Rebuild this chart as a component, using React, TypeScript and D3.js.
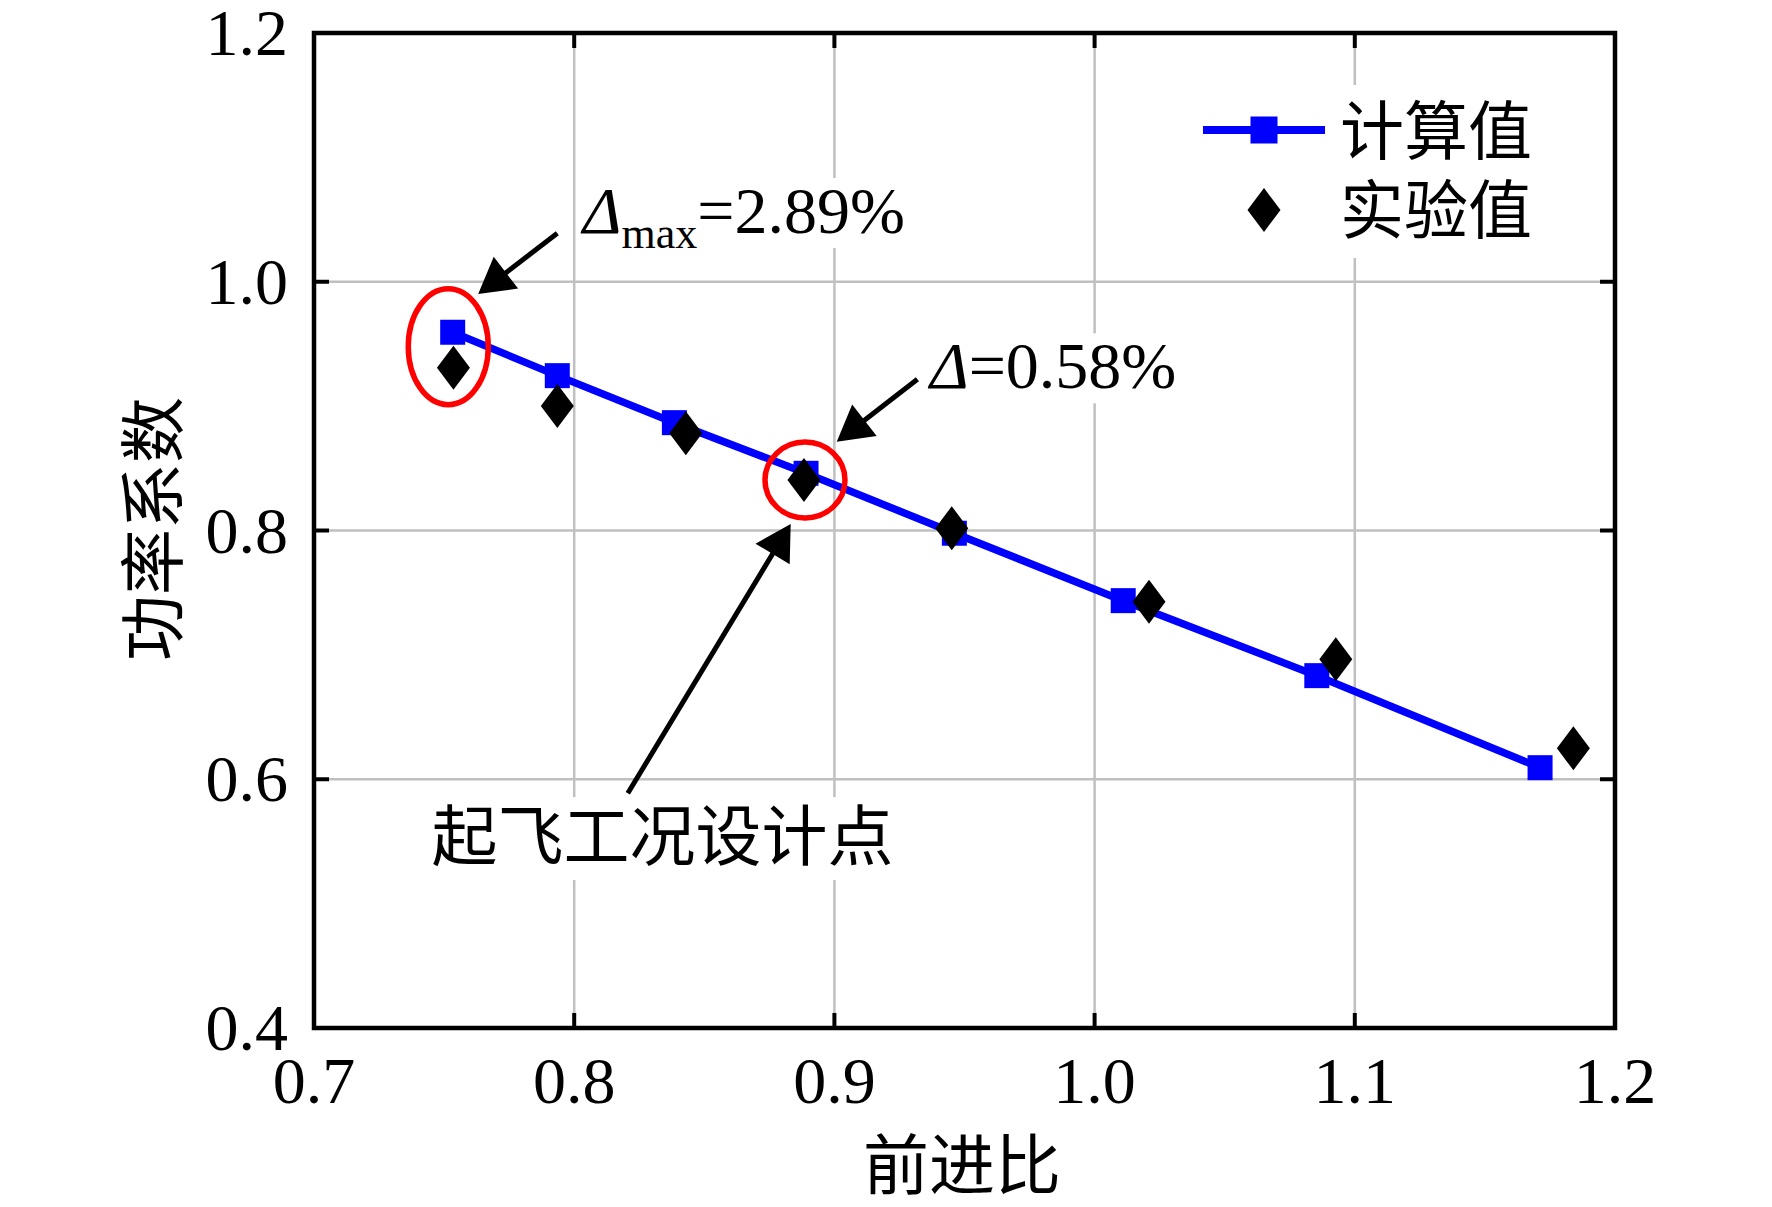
import React from 'react';
import * as d3 from 'd3';

// ---------- data ----------
const calcAdvance = [0.7533, 0.7935, 0.8385, 0.8891, 0.9461, 1.011, 1.0854, 1.1712];
const calcPower = [0.9594, 0.9245, 0.8867, 0.846, 0.7978, 0.7436, 0.6833, 0.6093];
const expAdvance = [0.7536, 0.7935, 0.8429, 0.8883, 0.9451, 1.0209, 1.0927, 1.184];
const expPower = [0.9309, 0.9001, 0.8781, 0.8406, 0.8018, 0.7428, 0.6964, 0.6249];
const xTicks = [0.7, 0.8, 0.9, 1.0, 1.1, 1.2];
const yTicks = [0.4, 0.6, 0.8, 1.0, 1.2];
const seriesNames = ['计算值', '实验值'];
const xTitle = '前进比';
const yTitle = '功率系数';
// highlighted points (ellipse centres, data units)
const highlightX = [0.7516, 0.8887];
const highlightY = [0.9478, 0.8406];
// arrows: tail -> tip (data units)
const arrowTailX = [0.7935, 0.9319, 0.8206];
const arrowTailY = [1.039, 0.9216, 0.5887];
const arrowTipX = [0.7631, 0.9009, 0.8832];
const arrowTipY = [0.9901, 0.8714, 0.8052];
// annotation texts anchor (data units)
const noteMaxPos = [0.8033, 1.0392];
const noteDesignPos = [0.9367, 0.9143];
const noteTakeoffPos = [0.7452, 0.535];
const noteMaxValue = '=2.89%';
const noteDesignValue = '=0.58%';
const noteTakeoff = '起飞工况设计点';

const W = 1772;
const H = 1207;
const SERIF = "'Liberation Serif', 'Times New Roman', serif";
const CJK = "'Noto Sans CJK SC', 'Noto Sans CJK JP', sans-serif";
const FS = 66;

function diamond(cx: number, cy: number, w: number, h: number) {
  return `M${cx},${cy - h / 2}L${cx + w / 2},${cy}L${cx},${cy + h / 2}L${cx - w / 2},${cy}Z`;
}

function Arrow({ x1, y1, x2, y2 }: { x1: number; y1: number; x2: number; y2: number }) {
  const dx = x2 - x1;
  const dy = y2 - y1;
  const len = Math.hypot(dx, dy);
  const ux = dx / len;
  const uy = dy / len;
  const headLen = 35;
  const headHalf = 20;
  const bx = x2 - ux * headLen;
  const by = y2 - uy * headLen;
  const nx = -uy;
  const ny = ux;
  return (
    <g>
      <line x1={x1} y1={y1} x2={bx + ux * 4} y2={by + uy * 4} stroke="#000" strokeWidth={5} />
      <path
        d={`M${x2},${y2}L${bx + nx * headHalf},${by + ny * headHalf}L${bx - nx * headHalf},${by - ny * headHalf}Z`}
        fill="#000"
      />
    </g>
  );
}

export default function App() {
  const x = d3.scaleLinear().domain([0.7, 1.2]).range([314, 1615]);
  const y = d3.scaleLinear().domain([0.4, 1.2]).range([1028, 33]);
  const [x0, x1] = x.range();
  const [y0, y1] = y.range();

  const calcPts: [number, number][] = calcAdvance.map((a, i) => [x(a), y(calcPower[i])]);
  const expPts: [number, number][] = expAdvance.map((a, i) => [x(a), y(expPower[i])]);
  const linePath = d3.line()(calcPts) || '';

  const innerX = xTicks.filter((t) => t > 0.7 && t < 1.2);
  const innerY = yTicks.filter((t) => t > 0.4 && t < 1.2);

  const mX = x(noteMaxPos[0]);
  const mY = y(noteMaxPos[1]);
  const dX = x(noteDesignPos[0]);
  const dY = y(noteDesignPos[1]);
  const tX = x(noteTakeoffPos[0]);
  const tY = y(noteTakeoffPos[1]);

  const legX = 1203;
  const legY1 = 130;
  const legY2 = 210;

  return (
    <svg
      width={W}
      height={H}
      viewBox={`0 0 ${W} ${H}`}
      style={{ position: 'absolute', left: 0, top: 0, background: '#fff' }}
    >
      <rect x={0} y={0} width={W} height={H} fill="#fff" />
      {/* grid */}
      {innerX.map((t) => (
        <line key={'gx' + t} x1={x(t)} x2={x(t)} y1={y1} y2={y0} stroke="#c0c0c0" strokeWidth={2.5} />
      ))}
      {innerY.map((t) => (
        <line key={'gy' + t} x1={x0} x2={x1} y1={y(t)} y2={y(t)} stroke="#c0c0c0" strokeWidth={2.5} />
      ))}

      {/* text backgrounds that interrupt the grid */}
      <rect x={mX - 6} y={mY - 55} width={330} height={70} fill="#fff" />
      <rect x={dX - 6} y={dY - 55} width={260} height={70} fill="#fff" />
      <rect x={tX - 6} y={tY - 63} width={475} height={83} fill="#fff" />
      <rect x={1195} y={85} width={355} height={173} fill="#fff" />

      {/* ticks (inside) */}
      {innerX.map((t) => (
        <g key={'tx' + t}>
          <line x1={x(t)} x2={x(t)} y1={y0} y2={y0 - 15} stroke="#000" strokeWidth={4} />
          <line x1={x(t)} x2={x(t)} y1={y1} y2={y1 + 15} stroke="#000" strokeWidth={4} />
        </g>
      ))}
      {innerY.map((t) => (
        <g key={'ty' + t}>
          <line x1={x0} x2={x0 + 15} y1={y(t)} y2={y(t)} stroke="#000" strokeWidth={4} />
          <line x1={x1} x2={x1 - 15} y1={y(t)} y2={y(t)} stroke="#000" strokeWidth={4} />
        </g>
      ))}
      {/* frame */}
      <rect x={x0} y={y1} width={x1 - x0} height={y0 - y1} fill="none" stroke="#000" strokeWidth={4.5} />

      {/* tick labels */}
      {xTicks.map((t) => (
        <text
          key={'lx' + t}
          x={x(t)}
          y={1103}
          textAnchor="middle"
          fontFamily={SERIF}
          fontSize={FS}
          fill="#000"
        >
          {t.toFixed(1)}
        </text>
      ))}
      {yTicks.map((t) => (
        <text
          key={'ly' + t}
          x={288}
          y={y(t) + 22}
          textAnchor="end"
          fontFamily={SERIF}
          fontSize={FS}
          fill="#000"
        >
          {t.toFixed(1)}
        </text>
      ))}

      {/* axis titles */}
      <text x={962} y={1189} textAnchor="middle" fontFamily={CJK} fontSize={FS} fill="#000">
        {xTitle}
      </text>
      <text
        transform={`translate(148,529) rotate(-90)`}
        textAnchor="middle"
        dominantBaseline="central"
        fontFamily={CJK}
        fontSize={FS}
        fill="#000"
      >
        {yTitle}
      </text>

      {/* calculated series */}
      <path d={linePath} fill="none" stroke="#0000ff" strokeWidth={7.5} />
      {calcPts.map(([px, py], i) => (
        <rect key={'s' + i} x={px - 12.5} y={py - 12.5} width={25} height={25} fill="#0000ff" />
      ))}
      {/* experimental series */}
      {expPts.map(([px, py], i) => (
        <path key={'d' + i} d={diamond(px, py, 33, 44)} fill="#000" />
      ))}

      {/* highlight ellipses */}
      <ellipse cx={x(highlightX[0])} cy={y(highlightY[0])} rx={40} ry={58} fill="none" stroke="#ff0000" strokeWidth={5.5} />
      <ellipse cx={x(highlightX[1])} cy={y(highlightY[1])} rx={40} ry={38} fill="none" stroke="#ff0000" strokeWidth={5.5} />

      {/* arrows */}
      {arrowTailX.map((_, i) => (
        <Arrow
          key={'a' + i}
          x1={x(arrowTailX[i])}
          y1={y(arrowTailY[i])}
          x2={x(arrowTipX[i])}
          y2={y(arrowTipY[i])}
        />
      ))}

      {/* annotations */}
      <text x={mX} y={mY} fontFamily={SERIF} fontSize={FS} fill="#000">
        <tspan fontStyle="italic">Δ</tspan>
        <tspan dy={15} fontSize={44}>max</tspan>
        <tspan dy={-15}>{noteMaxValue}</tspan>
      </text>
      <text x={dX} y={dY} fontFamily={SERIF} fontSize={FS} fill="#000">
        <tspan fontStyle="italic">Δ</tspan>
        <tspan>{noteDesignValue}</tspan>
      </text>
      <text x={tX} y={tY} fontFamily={CJK} fontSize={FS} fill="#000">
        {noteTakeoff}
      </text>

      {/* legend */}
      <line x1={legX} x2={legX + 122} y1={legY1} y2={legY1} stroke="#0000ff" strokeWidth={8} />
      <rect x={legX + 61 - 13.5} y={legY1 - 13.5} width={27} height={27} fill="#0000ff" />
      <path d={diamond(legX + 61, legY2, 33, 44)} fill="#000" />
      <text x={1340} y={legY1 + 24} fontFamily={CJK} fontSize={64} fill="#000">
        {seriesNames[0]}
      </text>
      <text x={1340} y={legY2 + 23} fontFamily={CJK} fontSize={64} fill="#000">
        {seriesNames[1]}
      </text>
    </svg>
  );
}
